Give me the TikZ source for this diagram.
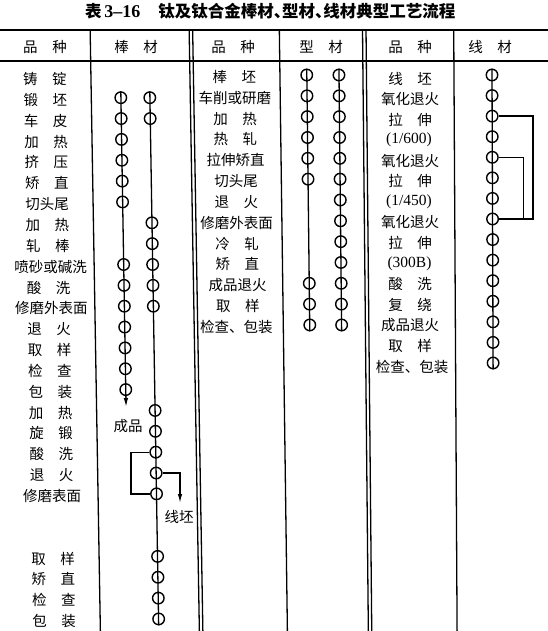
\documentclass[tikz,border=0pt]{standalone}
\usepackage{fontspec}
\setmainfont{Liberation Serif}
\newfontfamily\cjk{Noto Sans CJK SC}
\usetikzlibrary{arrows.meta}
\newcommand\skx[2]{\pgfmathsetmacro\xx{#1+(0.017-0.013*max(0,#1-200)/290)*(#2-80)}}
\newcommand\halfdun{\makebox[0.5em][l]{、}}
\begin{document}
\begin{tikzpicture}[x=1pt,y=-1pt,
  dot/.style={circle,draw,line width=1.4pt,minimum size=11.5pt,inner sep=0pt},
  lab/.style={font=\cjk\fontsize{14.5}{14.5}\selectfont,inner sep=0pt},
  num/.style={font=\rmfamily\fontsize{15.5}{15.5}\selectfont,inner sep=0pt},
  flow/.style={line width=1.3pt},
  rule/.style={line width=1.3pt},
  tip/.style={-{Latex[length=9pt,width=4.5pt]}}]
\fill[white] (0,0) rectangle (548,631);
\useasboundingbox (0,0) rectangle (548,631);

% title
\node[anchor=west,inner sep=0pt,font=\cjk\bfseries\fontsize{16.5}{16.5}\selectfont] (title) at (85,11.5)
  {表\,{\rmfamily\bfseries\fontsize{18}{18}\selectfont 3–16}\hspace{18pt}钛及钛合金棒材\halfdun 型材\halfdun 线材典型工艺流程};

% table rules
\draw[line width=1.8pt] (0,30) -- (548,30);
\draw[rule] (0,61) -- (548,61);
\foreach \x in {91,190,193.5,280,363,366.5,454}{
  \skx{\x}{30}\let\xa\xx
  \skx{\x}{631}\let\xb\xx
  \draw[rule] (\xa,30) -- (\xb,631);
}

% headers
\node[lab] (h1) at (45,47) {品　种};
\node[lab] (h2) at (136,47) {棒　材};
\node[lab] (h3) at (233,47) {品　种};
\node[lab] (h4) at (321,47) {型　材};
\node[lab] (h5) at (410,47) {品　种};
\node[lab] (h6) at (490,47) {线　材};

% left labels
\foreach \r/\t/\x in {0/铸　锭/45,1/锻　坯/45,2/车　皮/45,3/加　热/45,4/挤　压/45,5/矫　直/45,
  6/切头尾/45,7/加　热/45,8/轧　棒/45,9/喷砂或碱洗/47.5,10/酸　洗/45,11/修磨外表面/47.5,
  12/退　火/45,13/取　样/45,14/检　查/45,15/包　装/45,16/加　热/45,17/旋　锻/45,
  18/酸　洗/45,19/退　火/45,20/修磨表面/45,23/取　样/45,24/矫　直/45,25/检　查/45,26/包　装/45}{
  \skx{\x}{79+20.85*\r}
  \node[lab] (LL\r) at (\xx,{79+20.85*\r}) {\t};
}

% left circles, column 1
\foreach \r in {1,2,3,4,5,6,9,10,11,12,13,14,15}{
  \skx{120.5}{76.85+20.85*\r}
  \node[dot] (La\r) at (\xx,{76.85+20.85*\r}) {};
}
% left circles, column 2
\foreach \r in {1,2,7,8,9,10,11,16,17,18,19,20,23,24,25,26}{
  \skx{149.5}{76.85+20.85*\r}
  \node[dot] (Lb\r) at (\xx,{76.85+20.85*\r}) {};
}
\skx{120.5}{407}
\coordinate (Laend) at (\xx,407);
\draw[flow,tip] (La1.north) -- (Laend);
\node[lab] (cp) at (128,426) {成品};

\draw[flow] (Lb1.north) -- (Lb26.south);
\draw[flow] (Lb18.west) -- ++(-18.5,0) |- (Lb20.west);
\coordinate (xpend) at (180,503);
\draw[flow,tip] (Lb19.east) -| (xpend);
\node[lab] (xp) at (179,517) {线坯};

% middle labels
\foreach \r/\t/\x in {0/棒　坯/234.5,1/车削或研磨/234.5,2/加　热/234.5,3/热　轧/234.5,
  4/拉伸矫直/234.5,5/切头尾/234.5,6/退　火/234.5,7/修磨外表面/234.5,8/冷　轧/234.5,
  9/矫　直/234.5,10/成品退火/234.5,11/取　样/234.5,12/检查、包装/232.5}{
  \skx{\x}{77+20.83*\r}
  \node[lab] (ML\r) at (\xx,{77+20.83*\r}) {\t};
}
\foreach \r in {0,1,2,3,4,5,10,11,12}{
  \skx{306.8}{75+20.83*\r}
  \node[dot] (Ma\r) at (\xx,{75+20.83*\r}) {};
}
\foreach \r in {0,1,2,3,4,5,6,7,8,9,10,11,12}{
  \skx{339}{75+20.83*\r}
  \node[dot] (Mb\r) at (\xx,{75+20.83*\r}) {};
}
\draw[flow] (Ma0.north) -- (Ma12.south);
\draw[flow] (Mb0.north) -- (Mb12.south);

% right labels
\foreach \r/\t in {0/线　坯,1/氧化退火,2/拉　伸,4/氧化退火,5/拉　伸,7/氧化退火,8/拉　伸,
  10/酸　洗,11/复　绕,12/成品退火,13/取　样}{
  \node[lab] (RL\r) at (410,{78.5+20.57*\r}) {\t};
}
\node[lab] (RL14) at (412,{78.5+20.57*14}) {检查、包装};
\node[num] (RL3) at (409,{78.5+20.57*3}) {(1/600)};
\node[num] (RL6) at (409,{78.5+20.57*6}) {(1/450)};
\node[num] (RL9) at (409.5,{78.5+20.57*9}) {(300B)};

\foreach \r in {0,1,2,3,4,5,6,7,8,9,10,11,12,13,14}{
  \skx{492}{75+20.57*\r}
  \node[dot] (R\r) at (\xx,{75+20.57*\r}) {};
}
\draw[flow] (R0.north) -- (R14.south);
\draw[flow] (R2.east) -- ++(34.5,0) |- (R7.east);
\draw[flow] (R4.east) -- ++(24.5,0) |- (R7.east);
\end{tikzpicture}
\end{document}
